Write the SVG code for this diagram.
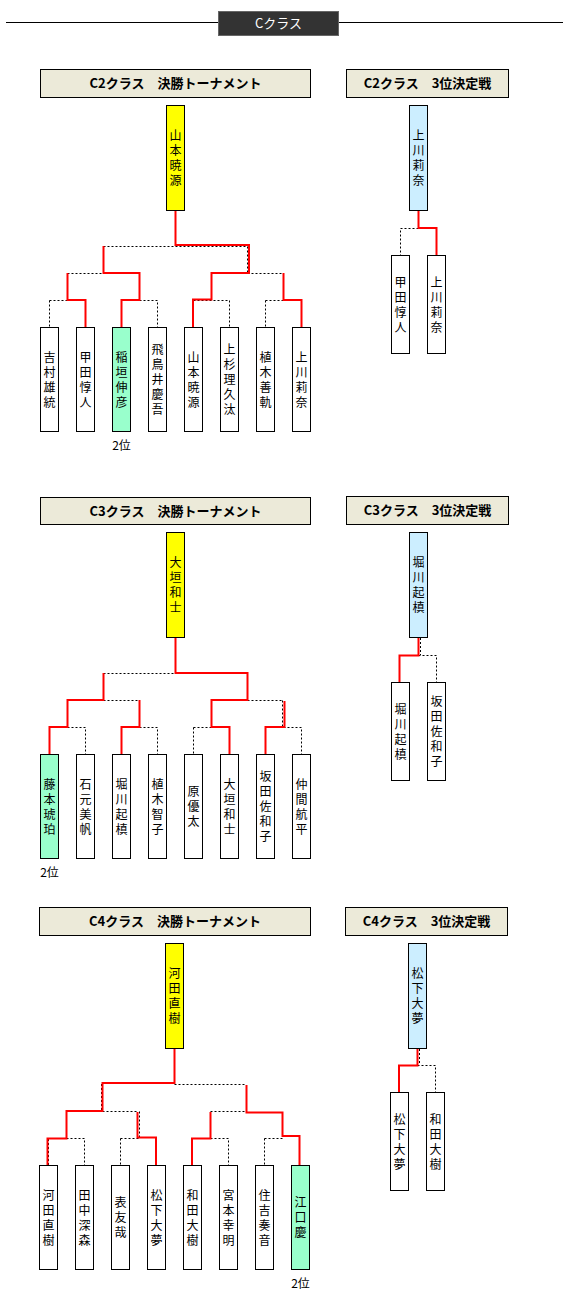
<svg xmlns="http://www.w3.org/2000/svg" width="570" height="1296" viewBox="0 0 570 1296">
<style>
.bg{fill:#fff}
.box{fill:#fff;stroke:#000;stroke-width:1}
.win{fill:#ffff00;stroke:#000;stroke-width:1}
.third{fill:#cceeff;stroke:#000;stroke-width:1}
.second{fill:#99ffcc;stroke:#000;stroke-width:1}
.title{fill:#ecead9;stroke:#000;stroke-width:1}
.tt{font-family:"Noto Sans CJK JP","Noto Sans",sans-serif;font-size:13px;font-weight:bold;text-anchor:middle;fill:#000}
.nm{font-family:"Noto Sans CJK JP",sans-serif;font-size:12px;text-anchor:middle;fill:#000}
.red{fill:none;stroke:#ff0000;stroke-width:2}
.dot{fill:none;stroke:#000;stroke-width:1;stroke-dasharray:2 2}
</style>
<rect class="bg" x="0" y="0" width="570" height="1296"/>
<g id="header">
<line x1="6" y1="22.5" x2="563" y2="22.5" stroke="#000" stroke-width="1"/>
<rect x="218.5" y="11.5" width="120" height="24" fill="#333" stroke="#666"/>
<text x="278.5" y="28" font-family="'Noto Sans CJK JP',sans-serif" font-size="13" fill="#fff" text-anchor="middle">Cクラス</text>
</g>

<g id="connectors">
<!-- C2 tournament dotted -->
<path class="dot" d="M103.5,246.5H247.5 M247.5,246.5V273 M67.5,273.5H103.5 M247.5,273.5H283.5 M49.5,300.5H67.5 M49.5,300.5V327 M139.5,300.5H157.5V327 M193.5,300.5H229.5V327 M265.5,300.5H283.5 M265.5,300.5V327"/>
<!-- C2 tournament red -->
<path class="red" d="M175.5,210V245H249V273H211.5V299.5H193V327"/>
<path class="red" d="M103.5,246V273H139.5V300H121.5V327"/>
<path class="red" d="M67.5,273V300H85.5V327"/>
<path class="red" d="M283.5,273V300H301.5V327"/>
<!-- C2 3rd -->
<path class="dot" d="M418.5,228.5H400.5V255"/>
<path class="red" d="M418.5,210V228H436.5V255"/>

<!-- C3 tournament dotted -->
<path class="dot" d="M103.5,673.5H175.5 M103.5,700.5H139.5 M247.5,700.5H283.5 M282.5,700.5V727 M67.5,727.5H85.5V754 M139.5,727.5H157.5V754 M193.5,727.5H211.5 M193.5,727.5V754 M283.5,727.5H301.5V754"/>
<!-- C3 tournament red -->
<path class="red" d="M175.5,637V673H247.5V700H211.5V727H229.5V754"/>
<path class="red" d="M103.5,673V700H67.5V727H49.5V754"/>
<path class="red" d="M139.5,700V727H121.5V754"/>
<path class="red" d="M284.5,701V727H265.5V754"/>
<!-- C3 3rd -->
<path class="dot" d="M420.5,638V655 M418.5,655.5H436.5V682"/>
<path class="red" d="M418.5,637V655.5H399.5V682"/>

<!-- C4 tournament dotted -->
<path class="dot" d="M174.5,1084.5H246.5 M101.5,1084V1111 M102.5,1111.5H138.5 M139.5,1111.5V1138 M210.5,1111.5H246.5 M66.5,1138.5H84.5V1165 M48.5,1139V1165 M120.5,1138.5H138.5 M120.5,1138.5V1165 M210.5,1138.5H228.5V1165 M264.5,1138.5H282.5 M264.5,1138.5V1165"/>
<!-- C4 tournament red -->
<path class="red" d="M174.5,1048V1083H102.5V1111H66.5V1138.5H47.5V1165"/>
<path class="red" d="M246.5,1085V1112.5H282.5V1136H299.5V1165"/>
<path class="red" d="M137.5,1112V1137.5H156V1165"/>
<path class="red" d="M210.5,1112V1138.5H192V1165"/>
<!-- C4 3rd -->
<path class="dot" d="M419.5,1049V1065 M417.5,1065.5H435.5V1092"/>
<path class="red" d="M417.5,1048V1065.5H399V1092"/>
</g>

<!-- ================= C2 ================= -->
<g id="c2-title"><rect class="title" x="40.5" y="69.5" width="270" height="28"/><text class="tt" x="175.5" y="88">C2クラス　決勝トーナメント</text></g>
<g id="c2-3rd-title"><rect class="title" x="346.5" y="69.5" width="162" height="28"/><text class="tt" x="427.5" y="88">C2クラス　3位決定戦</text></g>
<g id="c2-winner"><rect class="win" x="166.5" y="105.5" width="18" height="105"/><text class="nm"><tspan x="175.5" y="140">山</tspan><tspan x="175.5" y="155">本</tspan><tspan x="175.5" y="170">暁</tspan><tspan x="175.5" y="185">源</tspan></text></g>
<g id="c2-l1"><rect class="box" x="40.5" y="327.5" width="18" height="104"/><text class="nm"><tspan x="49.5" y="361.5">吉</tspan><tspan x="49.5" y="376.5">村</tspan><tspan x="49.5" y="391.5">雄</tspan><tspan x="49.5" y="406.5">統</tspan></text></g>
<g id="c2-l2"><rect class="box" x="76.5" y="327.5" width="18" height="104"/><text class="nm"><tspan x="85.5" y="361.5">甲</tspan><tspan x="85.5" y="376.5">田</tspan><tspan x="85.5" y="391.5">惇</tspan><tspan x="85.5" y="406.5">人</tspan></text></g>
<g id="c2-l3"><rect class="second" x="112.5" y="327.5" width="18" height="104"/><text class="nm"><tspan x="121.5" y="361.5">稲</tspan><tspan x="121.5" y="376.5">垣</tspan><tspan x="121.5" y="391.5">伸</tspan><tspan x="121.5" y="406.5">彦</tspan></text><text class="nm" x="121.5" y="449.5">2位</text></g>
<g id="c2-l4"><rect class="box" x="148.5" y="327.5" width="18" height="104"/><text class="nm"><tspan x="157.5" y="354">飛</tspan><tspan x="157.5" y="369">鳥</tspan><tspan x="157.5" y="384">井</tspan><tspan x="157.5" y="399">慶</tspan><tspan x="157.5" y="414">吾</tspan></text></g>
<g id="c2-l5"><rect class="box" x="184.5" y="327.5" width="18" height="104"/><text class="nm"><tspan x="193.5" y="361.5">山</tspan><tspan x="193.5" y="376.5">本</tspan><tspan x="193.5" y="391.5">暁</tspan><tspan x="193.5" y="406.5">源</tspan></text></g>
<g id="c2-l6"><rect class="box" x="220.5" y="327.5" width="18" height="104"/><text class="nm"><tspan x="229.5" y="354">上</tspan><tspan x="229.5" y="369">杉</tspan><tspan x="229.5" y="384">理</tspan><tspan x="229.5" y="399">久</tspan><tspan x="229.5" y="414">汰</tspan></text></g>
<g id="c2-l7"><rect class="box" x="256.5" y="327.5" width="18" height="104"/><text class="nm"><tspan x="265.5" y="361.5">植</tspan><tspan x="265.5" y="376.5">木</tspan><tspan x="265.5" y="391.5">善</tspan><tspan x="265.5" y="406.5">軌</tspan></text></g>
<g id="c2-l8"><rect class="box" x="292.5" y="327.5" width="18" height="104"/><text class="nm"><tspan x="301.5" y="361.5">上</tspan><tspan x="301.5" y="376.5">川</tspan><tspan x="301.5" y="391.5">莉</tspan><tspan x="301.5" y="406.5">奈</tspan></text></g>
<g id="c2-3rd-winner"><rect class="third" x="409.5" y="105.5" width="18" height="105"/><text class="nm"><tspan x="418.5" y="140">上</tspan><tspan x="418.5" y="155">川</tspan><tspan x="418.5" y="170">莉</tspan><tspan x="418.5" y="185">奈</tspan></text></g>
<g id="c2-3rd-l1"><rect class="box" x="391.5" y="255.5" width="18" height="98"/><text class="nm"><tspan x="400.5" y="286.5">甲</tspan><tspan x="400.5" y="301.5">田</tspan><tspan x="400.5" y="316.5">惇</tspan><tspan x="400.5" y="331.5">人</tspan></text></g>
<g id="c2-3rd-l2"><rect class="box" x="427.5" y="255.5" width="18" height="98"/><text class="nm"><tspan x="436.5" y="286.5">上</tspan><tspan x="436.5" y="301.5">川</tspan><tspan x="436.5" y="316.5">莉</tspan><tspan x="436.5" y="331.5">奈</tspan></text></g>

<!-- ================= C3 ================= -->
<g id="c3-title"><rect class="title" x="40.5" y="497.5" width="270" height="27"/><text class="tt" x="175.5" y="515.5">C3クラス　決勝トーナメント</text></g>
<g id="c3-3rd-title"><rect class="title" x="346.5" y="496.5" width="162" height="28"/><text class="tt" x="427.5" y="515">C3クラス　3位決定戦</text></g>
<g id="c3-winner"><rect class="win" x="166.5" y="532.5" width="18" height="105"/><text class="nm"><tspan x="175.5" y="567">大</tspan><tspan x="175.5" y="582">垣</tspan><tspan x="175.5" y="597">和</tspan><tspan x="175.5" y="612">士</tspan></text></g>
<g id="c3-l1"><rect class="second" x="40.5" y="754.5" width="18" height="104"/><text class="nm"><tspan x="49.5" y="788.5">藤</tspan><tspan x="49.5" y="803.5">本</tspan><tspan x="49.5" y="818.5">琥</tspan><tspan x="49.5" y="833.5">珀</tspan></text><text class="nm" x="49.5" y="876.5">2位</text></g>
<g id="c3-l2"><rect class="box" x="76.5" y="754.5" width="18" height="104"/><text class="nm"><tspan x="85.5" y="788.5">石</tspan><tspan x="85.5" y="803.5">元</tspan><tspan x="85.5" y="818.5">美</tspan><tspan x="85.5" y="833.5">帆</tspan></text></g>
<g id="c3-l3"><rect class="box" x="112.5" y="754.5" width="18" height="104"/><text class="nm"><tspan x="121.5" y="788.5">堀</tspan><tspan x="121.5" y="803.5">川</tspan><tspan x="121.5" y="818.5">起</tspan><tspan x="121.5" y="833.5">槙</tspan></text></g>
<g id="c3-l4"><rect class="box" x="148.5" y="754.5" width="18" height="104"/><text class="nm"><tspan x="157.5" y="788.5">植</tspan><tspan x="157.5" y="803.5">木</tspan><tspan x="157.5" y="818.5">智</tspan><tspan x="157.5" y="833.5">子</tspan></text></g>
<g id="c3-l5"><rect class="box" x="184.5" y="754.5" width="18" height="104"/><text class="nm"><tspan x="193.5" y="796">原</tspan><tspan x="193.5" y="811">優</tspan><tspan x="193.5" y="826">太</tspan></text></g>
<g id="c3-l6"><rect class="box" x="220.5" y="754.5" width="18" height="104"/><text class="nm"><tspan x="229.5" y="788.5">大</tspan><tspan x="229.5" y="803.5">垣</tspan><tspan x="229.5" y="818.5">和</tspan><tspan x="229.5" y="833.5">士</tspan></text></g>
<g id="c3-l7"><rect class="box" x="256.5" y="754.5" width="18" height="104"/><text class="nm"><tspan x="265.5" y="781">坂</tspan><tspan x="265.5" y="796">田</tspan><tspan x="265.5" y="811">佐</tspan><tspan x="265.5" y="826">和</tspan><tspan x="265.5" y="841">子</tspan></text></g>
<g id="c3-l8"><rect class="box" x="292.5" y="754.5" width="18" height="104"/><text class="nm"><tspan x="301.5" y="788.5">仲</tspan><tspan x="301.5" y="803.5">間</tspan><tspan x="301.5" y="818.5">航</tspan><tspan x="301.5" y="833.5">平</tspan></text></g>
<g id="c3-3rd-winner"><rect class="third" x="409.5" y="532.5" width="18" height="105"/><text class="nm"><tspan x="418.5" y="567">堀</tspan><tspan x="418.5" y="582">川</tspan><tspan x="418.5" y="597">起</tspan><tspan x="418.5" y="612">槙</tspan></text></g>
<g id="c3-3rd-l1"><rect class="box" x="391.5" y="682.5" width="18" height="98"/><text class="nm"><tspan x="400.5" y="713.5">堀</tspan><tspan x="400.5" y="728.5">川</tspan><tspan x="400.5" y="743.5">起</tspan><tspan x="400.5" y="758.5">槙</tspan></text></g>
<g id="c3-3rd-l2"><rect class="box" x="427.5" y="682.5" width="18" height="98"/><text class="nm"><tspan x="436.5" y="706">坂</tspan><tspan x="436.5" y="721">田</tspan><tspan x="436.5" y="736">佐</tspan><tspan x="436.5" y="751">和</tspan><tspan x="436.5" y="766">子</tspan></text></g>

<!-- ================= C4 ================= -->
<g id="c4-title"><rect class="title" x="39.5" y="907.5" width="271" height="28"/><text class="tt" x="175" y="926">C4クラス　決勝トーナメント</text></g>
<g id="c4-3rd-title"><rect class="title" x="345.5" y="907.5" width="162" height="28"/><text class="tt" x="426.5" y="926">C4クラス　3位決定戦</text></g>
<g id="c4-winner"><rect class="win" x="165.5" y="943.5" width="18" height="105"/><text class="nm"><tspan x="174.5" y="978">河</tspan><tspan x="174.5" y="993">田</tspan><tspan x="174.5" y="1008">直</tspan><tspan x="174.5" y="1023">樹</tspan></text></g>
<g id="c4-l1"><rect class="box" x="39.5" y="1165.5" width="18" height="104"/><text class="nm"><tspan x="48.5" y="1199.5">河</tspan><tspan x="48.5" y="1214.5">田</tspan><tspan x="48.5" y="1229.5">直</tspan><tspan x="48.5" y="1244.5">樹</tspan></text></g>
<g id="c4-l2"><rect class="box" x="75.5" y="1165.5" width="18" height="104"/><text class="nm"><tspan x="84.5" y="1199.5">田</tspan><tspan x="84.5" y="1214.5">中</tspan><tspan x="84.5" y="1229.5">深</tspan><tspan x="84.5" y="1244.5">森</tspan></text></g>
<g id="c4-l3"><rect class="box" x="111.5" y="1165.5" width="18" height="104"/><text class="nm"><tspan x="120.5" y="1207">表</tspan><tspan x="120.5" y="1222">友</tspan><tspan x="120.5" y="1237">哉</tspan></text></g>
<g id="c4-l4"><rect class="box" x="147.5" y="1165.5" width="18" height="104"/><text class="nm"><tspan x="156.5" y="1199.5">松</tspan><tspan x="156.5" y="1214.5">下</tspan><tspan x="156.5" y="1229.5">大</tspan><tspan x="156.5" y="1244.5">夢</tspan></text></g>
<g id="c4-l5"><rect class="box" x="183.5" y="1165.5" width="18" height="104"/><text class="nm"><tspan x="192.5" y="1199.5">和</tspan><tspan x="192.5" y="1214.5">田</tspan><tspan x="192.5" y="1229.5">大</tspan><tspan x="192.5" y="1244.5">樹</tspan></text></g>
<g id="c4-l6"><rect class="box" x="219.5" y="1165.5" width="18" height="104"/><text class="nm"><tspan x="228.5" y="1199.5">宮</tspan><tspan x="228.5" y="1214.5">本</tspan><tspan x="228.5" y="1229.5">幸</tspan><tspan x="228.5" y="1244.5">明</tspan></text></g>
<g id="c4-l7"><rect class="box" x="255.5" y="1165.5" width="18" height="104"/><text class="nm"><tspan x="264.5" y="1199.5">住</tspan><tspan x="264.5" y="1214.5">吉</tspan><tspan x="264.5" y="1229.5">奏</tspan><tspan x="264.5" y="1244.5">音</tspan></text></g>
<g id="c4-l8"><rect class="second" x="291.5" y="1165.5" width="18" height="104"/><text class="nm"><tspan x="300.5" y="1207">江</tspan><tspan x="300.5" y="1222">口</tspan><tspan x="300.5" y="1237">慶</tspan></text><text class="nm" x="300.5" y="1287.5">2位</text></g>
<g id="c4-3rd-winner"><rect class="third" x="408.5" y="943.5" width="18" height="105"/><text class="nm"><tspan x="417.5" y="978">松</tspan><tspan x="417.5" y="993">下</tspan><tspan x="417.5" y="1008">大</tspan><tspan x="417.5" y="1023">夢</tspan></text></g>
<g id="c4-3rd-l1"><rect class="box" x="390.5" y="1092.5" width="18" height="98"/><text class="nm"><tspan x="399.5" y="1123.5">松</tspan><tspan x="399.5" y="1138.5">下</tspan><tspan x="399.5" y="1153.5">大</tspan><tspan x="399.5" y="1168.5">夢</tspan></text></g>
<g id="c4-3rd-l2"><rect class="box" x="426.5" y="1092.5" width="18" height="98"/><text class="nm"><tspan x="435.5" y="1123.5">和</tspan><tspan x="435.5" y="1138.5">田</tspan><tspan x="435.5" y="1153.5">大</tspan><tspan x="435.5" y="1168.5">樹</tspan></text></g>
</svg>
